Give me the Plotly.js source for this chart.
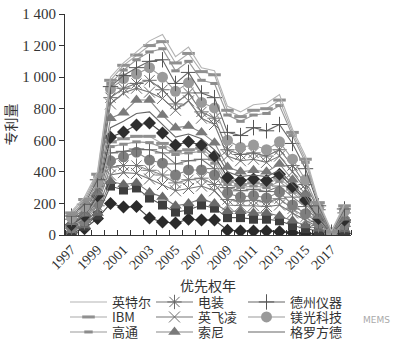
<!DOCTYPE html>
<html>
<head>
<meta charset="utf-8">
<script src="https://cdn.plot.ly/plotly-3.0.1.min.js"></script>
<style>html,body{margin:0;padding:0;background:#fff;}#chart{width:410px;height:352px;}</style>
</head>
<body>
<div id="chart"></div>
<script>
// Categories (priority years)
const years = [1997,1998,1999,2000,2001,2002,2003,2004,2005,2006,2007,2008,2009,2010,2011,2012,2013,2014,2015,2016,2017,2018];
const yearLabels = ['1997','1999','2001','2003','2005','2007','2009','2011','2013','2015','2017'];
const yTickVals = [0,200,400,600,800,1000,1200,1400];
const yTickText = ['0','200','400','600','800','1 000','1 200','1 400'];

// Series values (stacked line chart, bottom to top). Series 1-10 are not listed in the legend.
const s01 = [15,40,105,200,177,180,108,82,76,100,95,95,30,25,25,25,20,15,10,5,0,10];
const s02 = [10,15,20,110,108,118,126,108,69,58,95,75,80,85,75,75,70,45,30,20,1,15];
const s03 = [5,5,15,30,35,32,36,50,40,42,40,30,40,40,40,40,30,30,20,15,1,10];
const s04 = [5,10,20,40,75,60,85,80,95,95,80,80,40,35,45,40,70,50,35,10,1,10];
const s05 = [5,10,25,50,45,50,55,60,50,55,50,40,35,30,35,30,40,25,20,10,1,10];
const s06 = [5,10,20,40,55,85,65,75,50,62,52,60,40,25,30,25,42,25,20,15,1,10];
const s07 = [5,10,15,50,35,20,65,65,70,58,68,40,35,40,40,40,38,50,45,10,1,15];
const s08 = [5,10,10,40,45,45,45,35,60,50,50,35,20,20,20,25,30,30,20,10,1,5];
const s09 = [5,5,10,30,35,35,40,25,20,20,20,25,20,20,20,20,20,20,10,5,1,5];
const s10 = [5,5,8,30,42,72,85,66,40,50,20,20,25,25,25,25,25,15,12,5,0,5];
const globalfoundries = [5,5,7,60,68,73,70,54,50,50,40,40,35,25,25,25,25,15,13,5,1,5];   // 格罗方德
const sony          = [10,10,15,60,55,85,75,60,60,50,40,45,30,30,30,30,40,30,25,10,1,10]; // 索尼
const infineon      = [10,15,20,90,125,75,50,105,110,160,90,115,70,70,70,60,50,50,30,20,2,15]; // 英飞凌
const denso         = [10,15,20,40,30,30,75,55,40,50,40,40,40,40,40,40,40,40,30,20,2,15]; // 电装
const micron        = [10,15,20,55,60,60,80,80,80,65,60,65,60,45,50,40,50,40,30,10,1,10]; // 镁光科技
const ti            = [10,15,20,15,20,40,40,110,50,65,60,65,50,75,110,120,110,100,70,15,3,15]; // 德州仪器
const qualcomm      = [10,15,20,20,35,50,60,70,80,70,80,90,110,90,80,110,120,50,40,13,2,13]; // 高通
const ibm           = [10,15,15,20,30,30,40,45,50,50,55,55,30,30,30,30,35,20,20,7,2,7]; // IBM
const intel         = [10,15,15,20,15,20,30,45,40,40,25,25,25,30,35,35,35,20,20,10,3,10]; // 英特尔

const M = {
  diamond:  (c)=>({symbol:'diamond', size:10, color:c, line:{width:0}}),
  square:   (c)=>({symbol:'square', size:9, color:c, line:{width:0}}),
  triangle: (c)=>({symbol:'triangle-up', size:11, color:c, line:{width:0}}),
  x:        (c)=>({symbol:'x-thin-open', size:11, color:c, line:{width:1, color:c}}),
  asterisk: (c)=>({symbol:'asterisk-open', size:12, color:c, line:{width:1, color:c}}),
  circle:   (c)=>({symbol:'circle', size:11, color:c, line:{width:0}}),
  plus:     (c)=>({symbol:'cross-thin-open', size:11, color:c, line:{width:1, color:c}}),
  dash:     (c)=>({symbol:'line-ew-open', size:6, color:c, line:{width:3, color:c}}),
  longdash: (c)=>({symbol:'line-ew-open', size:9, color:c, line:{width:3, color:c}})
};

function tr(name, y, lineColor, marker, legendName) {
  const t = {
    type:'scatter', x: years, y: y, name: name, stackgroup:'one', fill:'none',
    mode: marker ? 'lines+markers' : 'lines',
    line:{color: lineColor, width:1.1},
    showlegend: !!legendName, hoverinfo:'skip'
  };
  if (marker) t.marker = marker;
  if (legendName) t.legend = legendName;
  return t;
}

const data = [
  tr('系列1', s01, '#444', M.diamond('#2a2a2a')),
  tr('系列2', s02, '#555', M.square('#3e3e3e')),
  tr('系列3', s03, '#777', M.triangle('#6a6a6a')),
  tr('系列4', s04, '#777', M.x('#666')),
  tr('系列5', s05, '#888', M.asterisk('#777')),
  tr('系列6', s06, '#888', M.circle('#7e7e7e')),
  tr('系列7', s07, '#777', M.plus('#666')),
  tr('系列8', s08, '#999', M.dash('#8c8c8c')),
  tr('系列9', s09, '#aaa', M.longdash('#909090')),
  tr('系列10', s10, '#444', M.diamond('#2e2e2e')),
  tr('格罗方德', globalfoundries, '#666', null, 'legend9'),
  tr('索尼', sony, '#888', M.triangle('#7a7a7a'), 'legend8'),
  tr('英飞凌', infineon, '#777', M.x('#6e6e6e'), 'legend5'),
  tr('电装', denso, '#777', M.asterisk('#6a6a6a'), 'legend2'),
  tr('镁光科技', micron, '#999', M.circle('#9a9a9a'), 'legend6'),
  tr('德州仪器', ti, '#666', M.plus('#555'), 'legend3'),
  tr('高通', qualcomm, '#999', M.dash('#8c8c8c'), 'legend7'),
  tr('IBM', ibm, '#aaa', M.longdash('#909090'), 'legend4'),
  tr('英特尔', intel, '#b4b4b4', null, 'legend')
];

const serif = 'Times New Roman';
const cjk = 'Noto Sans CJK SC';

// one single-entry legend per cell of the 3 x 3 legend grid
const colPx = [65, 151, 243];
const rowPx = [302, 317, 332];
function legendCell(col, row) {
  return {
    orientation:'h', x:(colPx[col] - 65) / 286, xanchor:'left',
    y:(235 - rowPx[row]) / 221, yanchor:'middle',
    itemwidth:37, font:{family:cjk, size:13, color:'#333'}, bgcolor:'rgba(0,0,0,0)'
  };
}

const layout = {
  width:410, height:352,
  margin:{l:65, r:59, t:14, b:117, autoexpand:false},
  paper_bgcolor:'#fff', plot_bgcolor:'#fff',
  showlegend:true,
  xaxis:{
    range:[1996.5, 2018.5], tickvals: yearLabels.map(Number), ticktext: yearLabels,
    tickangle:-45, ticks:'', showline:true, linecolor:'#333', linewidth:1,
    showgrid:false, zeroline:false, automargin:false,
    tickfont:{family:serif, size:14, color:'#333'},
    minor:{dtick:1, tick0:1996.5, ticks:'inside', ticklen:5, tickcolor:'#333', showgrid:false}
  },
  yaxis:{
    range:[0,1400], tickvals:yTickVals, ticktext:yTickText,
    ticks:'outside', ticklen:5, tickcolor:'#333', showline:true, linecolor:'#333', linewidth:1,
    showgrid:false, zeroline:false, automargin:false,
    tickfont:{family:serif, size:15, color:'#333'},
    title:{text:'专利量', font:{family:cjk, size:14, color:'#333'}, standoff:6}
  },
  legend:  legendCell(0,0), legend2: legendCell(1,0), legend3: legendCell(2,0),
  legend4: legendCell(0,1), legend5: legendCell(1,1), legend6: legendCell(2,1),
  legend7: legendCell(0,2), legend8: legendCell(1,2), legend9: legendCell(2,2),
  annotations:[
    {xref:'paper', yref:'paper', x:0.5, y:(235 - 285) / 221, xanchor:'center', yanchor:'middle',
     text:'优先权年', showarrow:false, font:{family:cjk, size:14, color:'#333'}},
    {xref:'paper', yref:'paper', x:1.09, y:-0.385, xanchor:'center', yanchor:'middle',
     text:'MEMS', showarrow:false, font:{family:'DejaVu Sans', size:9, color:'#aaa'}}
  ]
};

Plotly.newPlot('chart', data, layout, {staticPlot:true, displayModeBar:false});
</script>
</body>
</html>
